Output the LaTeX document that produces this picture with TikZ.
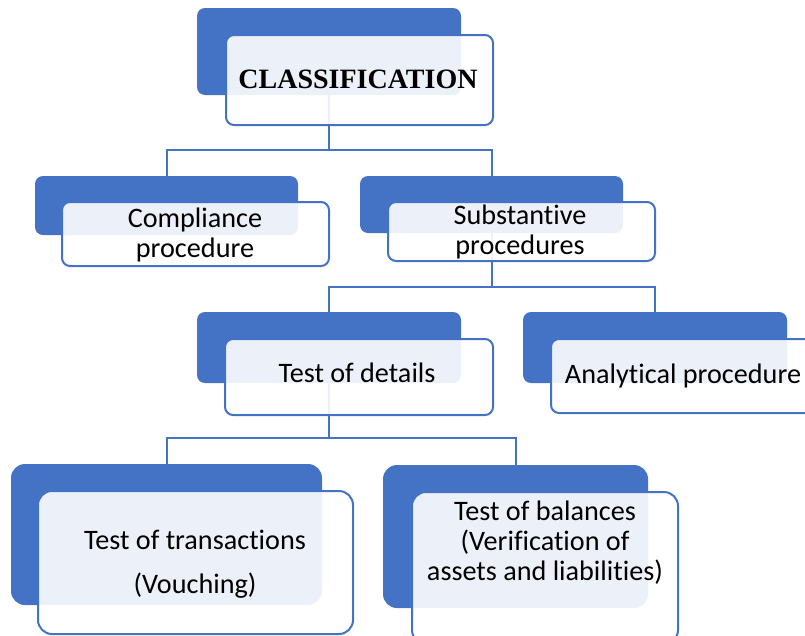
\documentclass[tikz,border=0pt]{standalone}
\usepackage{fontspec}
\setmainfont{Carlito}[Ligatures=NoCommon]
\newfontfamily\headfont{Liberation Serif}
\usetikzlibrary{backgrounds}
\definecolor{officeblue}{HTML}{4472C4}

\begin{document}
\begin{tikzpicture}[x=1pt,y=-1pt,
  back/.style={fill=officeblue,rounded corners=8pt,inner sep=0pt},
  front/.style={draw=officeblue,line width=2pt,fill=white,fill opacity=0.9,rounded corners=8pt,inner sep=0pt},
  txt/.style={font=\fontsize{28.2}{30}\selectfont,align=center,anchor=base,inner sep=0pt},
  link/.style={draw=officeblue,line width=2pt}]
  \useasboundingbox (0,0) rectangle (805,635);
  \clip (0,0) rectangle (805,635);
  % back boxes
  \node[back,minimum width=264pt,minimum height=87pt] (clsback) at (329,51.5) {};
  \node[back,minimum width=263pt,minimum height=59pt] (compback) at (166.5,205.5) {};
  \node[back,minimum width=263pt,minimum height=57pt] (subsback) at (491.5,204.5) {};
  \node[back,minimum width=264pt,minimum height=71pt] (detback) at (329,347.5) {};
  \node[back,minimum width=264pt,minimum height=71pt] (anaback) at (655,347.5) {};
  \node[back,rounded corners=14pt,minimum width=311pt,minimum height=141pt] (traback) at (166.5,534.5) {};
  \node[back,rounded corners=14pt,minimum width=265pt,minimum height=143pt] (balback) at (515.5,536.5) {};
  % front boxes
  \node[front,minimum width=267pt,minimum height=90pt] (cls) at (359.5,80) {};
  \node[front,minimum width=267pt,minimum height=64pt] (comp) at (195.5,234) {};
  \node[front,minimum width=267pt,minimum height=59pt] (subs) at (521.5,231.5) {};
  \node[front,minimum width=268pt,minimum height=76pt] (det) at (359,377) {};
  \node[front,minimum width=268pt,minimum height=74pt] (ana) at (685,376) {};
  \node[front,rounded corners=14pt,minimum width=315pt,minimum height=143pt] (tra) at (195.5,562.5) {};
  \node[front,rounded corners=14pt,minimum width=266pt,minimum height=152pt] (bal) at (545,568) {};
  % texts (base = last line)
  \node[txt,font=\headfont\bfseries\fontsize{28}{30}\selectfont] (clstext) at (358,88) {CLASSIFICATION};
  \node[txt] (comptext) at (195,257) {Compliance\\procedure};
  \node[txt] (substext) at (520,254) {Substantive\\procedures};
  \node[txt] (dettext) at (357,382) {Test of details};
  \node[txt] (anatext) at (683,383) {Analytical procedure};
  \node[txt] (tratext) at (195,593) {Test of transactions\\[14pt](Vouching)};
  \node[txt] (baltext) at (545,580) {Test of balances\\(Verification of\\assets and liabilities)};
  % connectors
  \begin{scope}[on background layer]
    \draw[link] (clsback.south) -- (clsback.south |- 0,150) -| (compback.north);
    \draw[link] (clsback.south |- 0,150) -| (subsback.north);
    \draw[link] (subsback.south) -- (subsback.south |- 0,287) -| (detback.north);
    \draw[link] (subsback.south |- 0,287) -| (anaback.north);
    \draw[link] (detback.south) -- (detback.south |- 0,438) -| (traback.north);
    \draw[link] (detback.south |- 0,438) -| (balback.north);
  \end{scope}
\end{tikzpicture}
\end{document}
